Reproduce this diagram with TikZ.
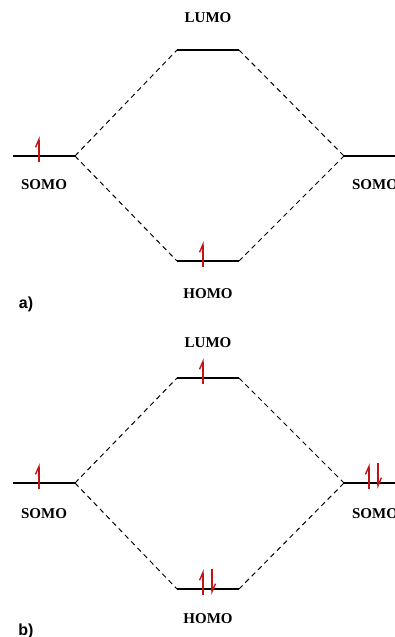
\documentclass[tikz,border=0pt]{standalone}
\usepackage{fontspec}
\setmainfont{Liberation Serif}
\newfontfamily\labfont{Liberation Sans}
\usetikzlibrary{arrows.meta}
\definecolor{elred}{RGB}{195,20,20}
\tikzset{
  level/.style={line width=2.2pt, black},
  conn/.style={line width=1pt, dash pattern=on 5pt off 4pt},
  lab/.style={font=\fontsize{15}{17}\selectfont\bfseries, inner sep=0pt},
  panel/.style={font=\labfont\fontsize{16}{18}\selectfont\bfseries, inner sep=0pt},
  spin/.style={elred, line width=1.4pt, -{Straight Barb[harpoon, length=8pt, width=7pt]}},
}
\begin{document}
\begin{tikzpicture}[x=1pt,y=-1pt]
\useasboundingbox (0,0) rectangle (395,637);
% ---------- panel a ----------
\coordinate (aL1) at (13,156); \coordinate (aL2) at (75,156);
\coordinate (aU1) at (177,50); \coordinate (aU2) at (239,50);
\coordinate (aH1) at (177,261); \coordinate (aH2) at (239,261);
\coordinate (aR1) at (344,156); \coordinate (aR2) at (400,156);
\draw[level] (aL1) -- (aL2);
\draw[level] (aU1) -- (aU2);
\draw[level] (aH1) -- (aH2);
\draw[level] (aR1) -- (aR2);
\draw[conn] (aL2) -- (aU1);
\draw[conn] (aL2) -- (aH1);
\draw[conn] (aU2) -- (aR1);
\draw[conn] (aH2) -- (aR1);
\node[lab] (aSL) at (44,185) {SOMO};
\node[lab] (aLU) at (208,18) {LUMO};
\node[lab] (aHO) at (208,294) {HOMO};
\node[lab] (aSR) at (375,185) {SOMO};
\node[panel] (pa) at (26,304) {a)};
\coordinate (as1a) at (39,162); \coordinate (as1b) at (39,136);
\draw[spin] (as1a) -- (as1b);
\coordinate (as2a) at (203,267); \coordinate (as2b) at (203,241);
\draw[spin] (as2a) -- (as2b);
% ---------- panel b ----------
\coordinate (bL1) at (13,483); \coordinate (bL2) at (75,483);
\coordinate (bU1) at (177,378); \coordinate (bU2) at (239,378);
\coordinate (bH1) at (177,589); \coordinate (bH2) at (239,589);
\coordinate (bR1) at (344,483); \coordinate (bR2) at (400,483);
\draw[level] (bL1) -- (bL2);
\draw[level] (bU1) -- (bU2);
\draw[level] (bH1) -- (bH2);
\draw[level] (bR1) -- (bR2);
\draw[conn] (bL2) -- (bU1);
\draw[conn] (bL2) -- (bH1);
\draw[conn] (bU2) -- (bR1);
\draw[conn] (bH2) -- (bR1);
\node[lab] (bSL) at (44,514) {SOMO};
\node[lab] (bLU) at (208,343) {LUMO};
\node[lab] (bHO) at (208,619) {HOMO};
\node[lab] (bSR) at (375,514) {SOMO};
\node[panel] (pb) at (26,631) {b)};
\coordinate (bs1a) at (39,489); \coordinate (bs1b) at (39,463);
\draw[spin] (bs1a) -- (bs1b);
\coordinate (bs2a) at (203,384); \coordinate (bs2b) at (203,358);
\draw[spin] (bs2a) -- (bs2b);
\coordinate (bs3a) at (203,595); \coordinate (bs3b) at (203,569);
\draw[spin] (bs3a) -- (bs3b);
\coordinate (bs4a) at (212,569); \coordinate (bs4b) at (212,595);
\draw[spin] (bs4a) -- (bs4b);
\coordinate (bs5a) at (369,489); \coordinate (bs5b) at (369,463);
\draw[spin] (bs5a) -- (bs5b);
\coordinate (bs6a) at (378,463); \coordinate (bs6b) at (378,489);
\draw[spin] (bs6a) -- (bs6b);
\end{tikzpicture}
\end{document}
